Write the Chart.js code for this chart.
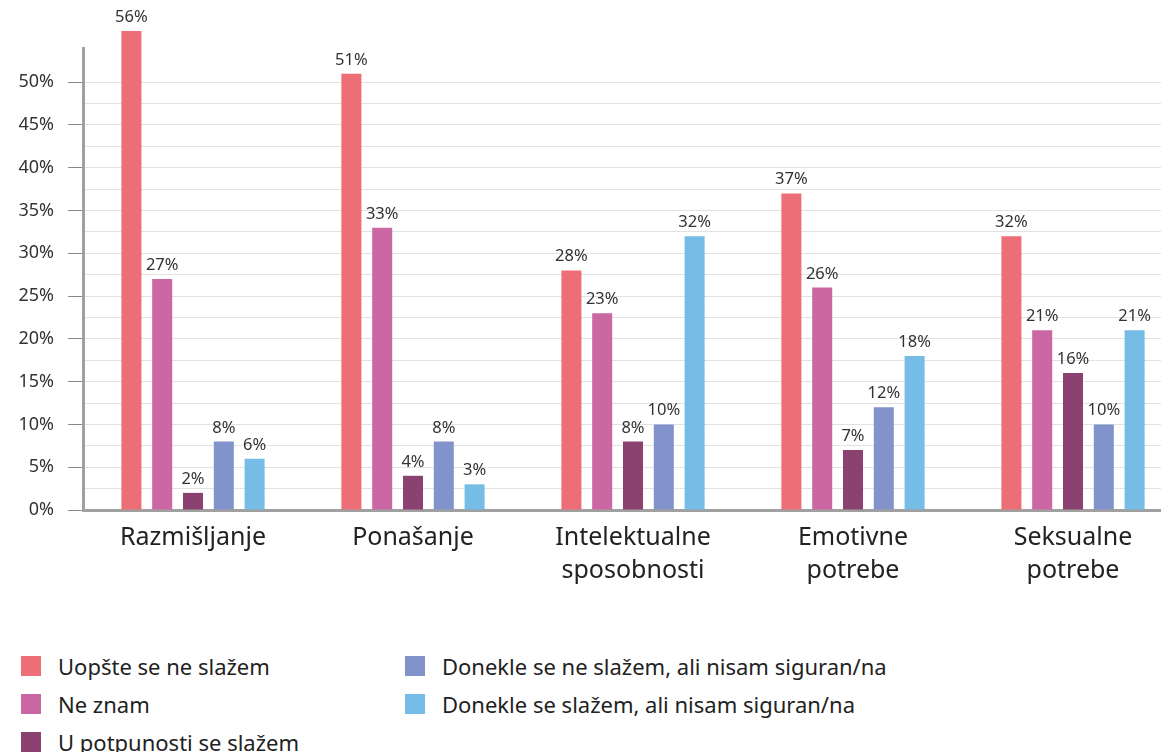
<!DOCTYPE html>
<html>
<head>
<meta charset="utf-8">
<script src="https://cdn.jsdelivr.net/npm/chart.js@4/dist/chart.umd.min.js"></script>
<style>
    body { margin: 0; background: #fff; overflow: hidden; width: 1161px; height: 752px; }
    #wrap { position: absolute; left: 0; top: 0; width: 1183px; height: 600px; }
    #legend {
        position: absolute; left: 21px; top: 647px;
        display: grid; grid-auto-flow: column;
        grid-template-rows: repeat(3, 38px); grid-template-columns: 384px auto;
        font-family: "Noto Sans", sans-serif; font-size: 22px; color: #222;
    }
    .item { display: flex; align-items: center; }
    .sw { width: 20px; height: 20px; margin-right: 17px; flex: none; }
</style>
</head>
<body>
<div id="wrap"><canvas id="chart" width="1183" height="600"></canvas></div>
<div id="legend"></div>
<script>
// categories and series
const categories = ['Razmišljanje', 'Ponašanje', ['Intelektualne', 'sposobnosti'], ['Emotivne', 'potrebe'], ['Seksualne', 'potrebe']];
const seriesNames = ['Uopšte se ne slažem', 'Ne znam', 'U potpunosti se slažem', 'Donekle se ne slažem, ali nisam siguran/na', 'Donekle se slažem, ali nisam siguran/na'];
const seriesColors = ['#ED6E76', '#CB67A3', '#8B4270', '#8193CA', '#75BCE7'];

const uopste = [56, 51, 28, 37, 32];
const neZnam = [27, 33, 23, 26, 21];
const uPotpunosti = [2, 4, 8, 7, 16];
const donekleNe = [8, 8, 10, 12, 10];
const donekleDa = [6, 3, 32, 18, 21];
const seriesValues = [uopste, neZnam, uPotpunosti, donekleNe, donekleDa];

const FONT = '"Noto Sans", sans-serif';

// value labels above each bar
const valueLabels = {
    id: 'valueLabels',
    afterDatasetsDraw(chart) {
        const ctx = chart.ctx;
        ctx.save();
        ctx.font = '16.5px ' + FONT;
        ctx.fillStyle = '#333';
        ctx.textAlign = 'center';
        ctx.textBaseline = 'alphabetic';
        chart.data.datasets.forEach((ds, i) => {
            chart.getDatasetMeta(i).data.forEach((bar, j) => {
                ctx.fillText(ds.data[j] + '%', bar.x, bar.y - 9);
            });
        });
        ctx.restore();
    }
};

// legend in two columns like the original
const legendEl = document.getElementById('legend');
seriesNames.forEach((name, i) => {
    const item = document.createElement('div');
    item.className = 'item';
    item.innerHTML = `<span class="sw" style="background:${seriesColors[i]}"></span><span>${name}</span>`;
    legendEl.appendChild(item);
});

const ctx = document.getElementById('chart').getContext('2d');
new Chart(ctx, {
    type: 'bar',
    data: {
        labels: categories,
        datasets: seriesNames.map((name, i) => ({
            label: name,
            data: seriesValues[i],
            backgroundColor: seriesColors[i],
            categoryPercentage: 0.7,
            barPercentage: 0.65,
            clip: false
        }))
    },
    options: {
        responsive: false,
        animation: false,
        layout: { padding: { top: 48, right: 0, bottom: 0, left: 0 } },
        plugins: {
            legend: { display: false },
            tooltip: { enabled: false }
        },
        scales: {
            y: {
                min: 0,
                max: 54,
                afterFit: (scale) => { scale.width = 83; },
                afterBuildTicks: (scale) => { scale.ticks = scale.ticks.filter(t => t.value % 2.5 === 0); },
                ticks: {
                    stepSize: 2.5,
                    autoSkip: false,
                    padding: 14,
                    color: '#333',
                    font: { family: FONT, size: 18 },
                    callback: (v) => (v % 5 === 0 ? v + '%' : '')
                },
                grid: {
                    color: '#e2e2e2',
                    tickLength: 15,
                    tickColor: (c) => (c.tick && c.tick.value % 5 === 0 ? '#888' : 'rgba(0,0,0,0)')
                },
                border: { color: '#a0a0a0', width: 3 }
            },
            x: {
                afterFit: (scale) => { scale.height = 90; },
                ticks: {
                    padding: 12,
                    color: '#222',
                    font: { family: FONT, size: 25, lineHeight: 1.3 }
                },
                grid: { display: true, color: 'rgba(0,0,0,0)', drawTicks: false },
                border: { color: '#a0a0a0', width: 3 }
            }
        }
    },
    plugins: [valueLabels]
});
</script>
</body>
</html>
